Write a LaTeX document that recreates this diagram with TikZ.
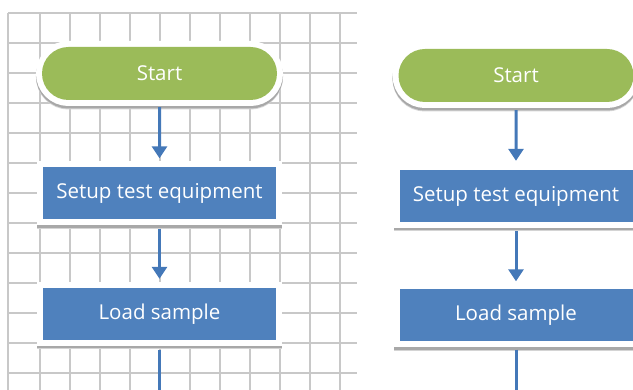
\documentclass[tikz,border=0pt]{standalone}
\usepackage{fontspec}
\setmainfont{Open Sans}
\usetikzlibrary{shapes.misc,arrows.meta}
\definecolor{termgreen}{HTML}{9BBB59}
\definecolor{procblue}{HTML}{4F81BD}
\definecolor{arrowblue}{HTML}{4478B8}
\definecolor{gridgray}{HTML}{C8C8C8}
\definecolor{shadowgray}{HTML}{A8A8A8}
\definecolor{shadowlight}{HTML}{D4D4D4}
\tikzset{
  framed/.style={
    preaction={transform canvas={yshift=-3.5pt}, draw=shadowlight, line width=12pt},
    preaction={transform canvas={yshift=-2.5pt}, draw=shadowgray, line width=12pt},
    preaction={draw=white, line width=12pt}},
  terminal/.style={framed, rounded rectangle, fill=termgreen, text=white,
    minimum width=235pt, minimum height=53pt, inner sep=0pt,
    font=\fontsize{20.5pt}{24pt}\selectfont},
  process/.style={framed, rectangle, fill=procblue, text=white,
    minimum width=233pt, minimum height=52pt, inner sep=0pt,
    font=\fontsize{20.5pt}{24pt}\selectfont},
  flowarrow/.style={draw=arrowblue, line width=3pt,
    -{Triangle[width=15pt,length=12pt]}},
  gridline/.style={draw=gridgray, line width=1.4pt}
}
\begin{document}
\begin{tikzpicture}[x=1pt,y=-1pt]
\useasboundingbox (0,0) rectangle (633,390);
\clip (0,0) rectangle (633,390);
% grid of the left panel
\foreach \gx in {8,40,70,...,340} \draw[gridline] (\gx,13) -- (\gx,390);
\foreach \gy in {13,43,...,373} \draw[gridline] (8,\gy) -- (357,\gy);
% left flowchart
\node[terminal] (startL) at (159.5,73.5) {Start};
\node[process] (setupL) at (159.5,193.5) {Setup test equipment};
\node[process] (loadL) at (159.5,314) {Load sample};
\coordinate (endL) at (159.5,405);
\draw[flowarrow, shorten <=7pt, shorten >=9pt] (startL) -- (setupL);
\draw[flowarrow, shorten <=9pt, shorten >=9pt] (setupL) -- (loadL);
\draw[flowarrow, shorten <=10pt] (loadL) -- (endL);
% right flowchart
\node[terminal] (startR) at (516,75.5) {Start};
\node[process] (setupR) at (516,196) {Setup test equipment};
\node[process] (loadR) at (516,315.5) {Load sample};
\coordinate (endR) at (516,405);
\draw[flowarrow, shorten <=8pt, shorten >=9pt] (startR) -- (setupR);
\draw[flowarrow, shorten <=9pt, shorten >=8pt] (setupR) -- (loadR);
\draw[flowarrow, shorten <=8pt] (loadR) -- (endR);
\end{tikzpicture}
\end{document}
